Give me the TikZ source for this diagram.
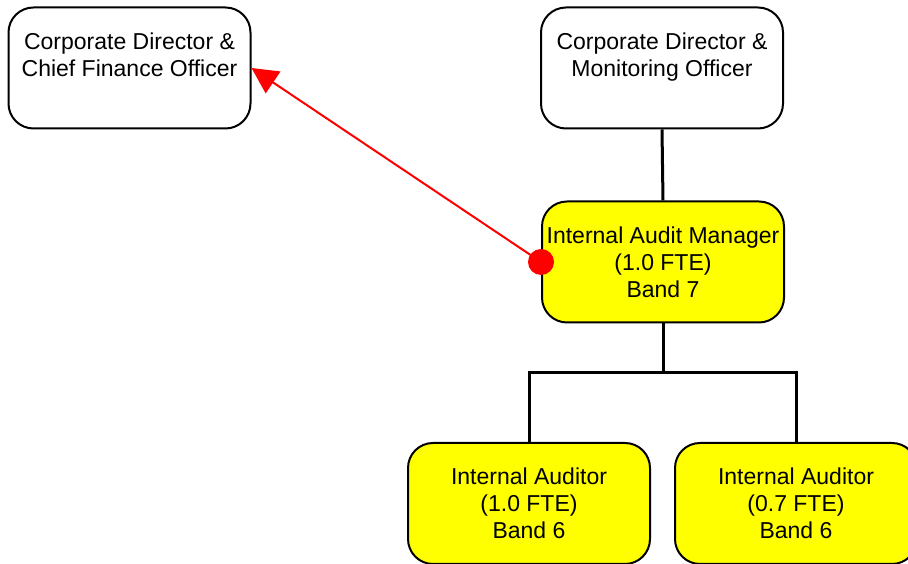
\documentclass[tikz,border=0pt]{standalone}
\usepackage{fontspec}
\setmainfont{Liberation Sans}
\usetikzlibrary{arrows.meta}
\definecolor{postyellow}{RGB}{255,255,0}
\definecolor{linkred}{RGB}{255,0,0}

\begin{document}
\begin{tikzpicture}[x=1pt,y=1pt,
  post/.style={draw=black,line width=2pt,rounded corners=25pt,minimum width=242pt,minimum height=121pt,
    inner sep=0pt,align=center,font=\fontsize{23}{27}\selectfont},
  staff/.style={post,fill=postyellow},
  link/.style={line width=3pt}]
\useasboundingbox (0,0) rectangle (908,564);
\node [post,fill=white] (cfo) at (129.5,496) {Corporate Director \&\\Chief Finance Officer\\\mbox{}};
\node [post,fill=white] (mon) at (662,496) {Corporate Director \&\\Monitoring Officer\\\mbox{}};
\node [staff] (mgr) at (663,302) {Internal Audit Manager\\(1.0 FTE)\\Band 7};
\node [staff] (aud1) at (529,60.5) {Internal Auditor\\(1.0 FTE)\\Band 6};
\node [staff] (aud2) at (796,60.5) {Internal Auditor\\(0.7 FTE)\\Band 6};
\draw [link] (mon.south) -- (mgr.north);
\draw [link] (mgr.south) -- ++(0,-49) coordinate (split);
\draw [link] (aud1.north) |- (split) -| (aud2.north);
\draw [linkred,line width=2pt,-{Triangle[length=26pt,width=26pt]}] (mgr.west) -- (cfo.east);
\fill [linkred] (mgr.west) circle (13pt);
\end{tikzpicture}
\end{document}
